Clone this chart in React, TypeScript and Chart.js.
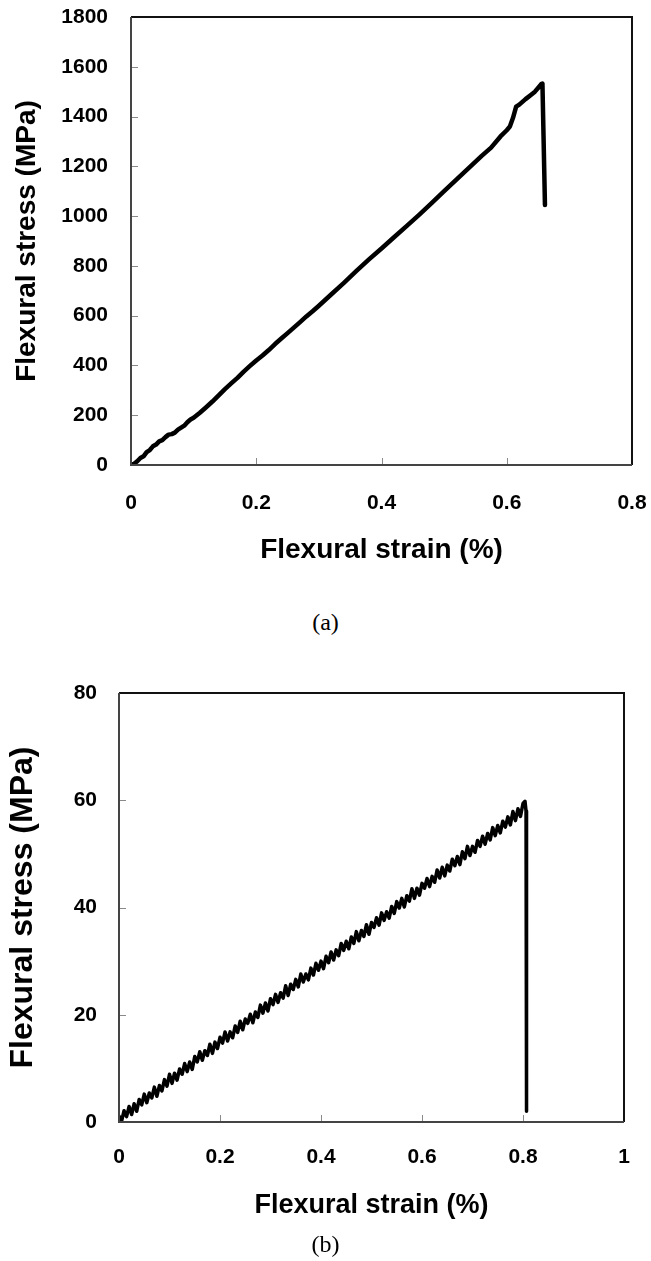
import React, { useEffect, useRef } from 'react';
import { Chart, registerables } from 'chart.js';

Chart.register(...registerables);

// ---------- DATA ----------
const X_TITLE = 'Flexural strain (%)';
const Y_TITLE = 'Flexural stress (MPa)';

const X_TICKS_A = ['0', '0.2', '0.4', '0.6', '0.8'];
const Y_TICKS_A = ['0', '200', '400', '600', '800', '1000', '1200', '1400', '1600', '1800'];
const X_TICKS_B = ['0', '0.2', '0.4', '0.6', '0.8', '1'];
const Y_TICKS_B = ['0', '20', '40', '60', '80'];

const STRAIN_A = [
  0, 0.005, 0.01, 0.015, 0.02, 0.025, 0.03, 0.035, 0.04, 0.045, 0.05, 0.055, 0.06, 0.065, 0.07,
  0.075, 0.08, 0.085, 0.09, 0.095, 0.1, 0.11, 0.12, 0.13, 0.14, 0.15, 0.16, 0.17, 0.18, 0.19,
  0.2, 0.21, 0.22, 0.23, 0.24, 0.25, 0.26, 0.27, 0.28, 0.29, 0.3, 0.32, 0.34, 0.36, 0.38, 0.4,
  0.42, 0.44, 0.46, 0.48, 0.5, 0.52, 0.54, 0.56, 0.575, 0.59, 0.6, 0.605, 0.61, 0.615, 0.62,
  0.63, 0.64, 0.645, 0.65, 0.655, 0.657, 0.661,
];
const STRESS_A = [
  0, 5, 15, 28, 35, 52, 60, 75, 82, 95, 100, 112, 122, 124, 130,
  142, 150, 158, 172, 183, 190, 210, 232, 255, 280, 305, 328, 350, 375, 398,
  420, 440, 462, 486, 508, 530, 552, 574, 597, 618, 640, 686, 732, 780, 826, 870,
  915, 960, 1005, 1052, 1100, 1148, 1195, 1242, 1275, 1320, 1345, 1360, 1395, 1440, 1448,
  1470, 1490, 1500, 1515, 1530, 1532, 1045,
];

const STRAIN_B = [
  0, 0.005, 0.01, 0.015, 0.02, 0.025, 0.03, 0.035, 0.04, 0.045,
  0.05, 0.055, 0.06, 0.065, 0.07, 0.075, 0.08, 0.085, 0.09, 0.095,
  0.1, 0.105, 0.11, 0.115, 0.12, 0.125, 0.13, 0.135, 0.14, 0.145,
  0.15, 0.155, 0.16, 0.165, 0.17, 0.175, 0.18, 0.185, 0.19, 0.195,
  0.2, 0.205, 0.21, 0.215, 0.22, 0.225, 0.23, 0.235, 0.24, 0.245,
  0.25, 0.255, 0.26, 0.265, 0.27, 0.275, 0.28, 0.285, 0.29, 0.295,
  0.3, 0.305, 0.31, 0.315, 0.32, 0.325, 0.33, 0.335, 0.34, 0.345,
  0.35, 0.355, 0.36, 0.365, 0.37, 0.375, 0.38, 0.385, 0.39, 0.395,
  0.4, 0.405, 0.41, 0.415, 0.42, 0.425, 0.43, 0.435, 0.44, 0.445,
  0.45, 0.455, 0.46, 0.465, 0.47, 0.475, 0.48, 0.485, 0.49, 0.495,
  0.5, 0.505, 0.51, 0.515, 0.52, 0.525, 0.53, 0.535, 0.54, 0.545,
  0.55, 0.555, 0.56, 0.565, 0.57, 0.575, 0.58, 0.585, 0.59, 0.595,
  0.6, 0.605, 0.61, 0.615, 0.62, 0.625, 0.63, 0.635, 0.64, 0.645,
  0.65, 0.655, 0.66, 0.665, 0.67, 0.675, 0.68, 0.685, 0.69, 0.695,
  0.7, 0.705, 0.71, 0.715, 0.72, 0.725, 0.73, 0.735, 0.74, 0.745,
  0.75, 0.755, 0.76, 0.765, 0.77, 0.775, 0.78, 0.785, 0.79, 0.795,
  0.8, 0.804, 0.806, 0.807,
];
const STRESS_B = [
  1.1, 0.1, 2.1, 1.0, 2.9, 1.4, 3.4, 2.0, 4.2, 3.2,
  5.2, 3.6, 5.4, 4.5, 6.5, 4.8, 6.8, 5.8, 7.9, 6.7,
  8.9, 7.2, 9.1, 7.8, 9.9, 8.9, 10.9, 9.4, 11.2, 9.8,
  12.2, 11.2, 13.1, 11.5, 13.3, 12.4, 14.5, 12.8, 14.9, 13.7,
  15.8, 14.7, 16.8, 15.1, 16.8, 15.7, 17.9, 16.7, 18.8, 17.2,
  19.2, 18.4, 20.1, 18.5, 20.5, 19.5, 21.8, 20.3, 22.2, 20.7,
  23.0, 21.9, 23.8, 22.3, 24.1, 23.1, 25.4, 23.6, 25.7, 24.7,
  26.6, 25.2, 27.6, 26.1, 27.6, 26.5, 28.7, 27.4, 29.6, 28.3,
  30.0, 28.6, 30.9, 29.7, 31.7, 30.2, 32.1, 31.0, 33.3, 32.0,
  33.7, 32.3, 34.5, 33.3, 35.5, 33.8, 35.7, 34.6, 36.8, 35.0,
  37.2, 36.3, 38.1, 36.7, 39.0, 37.6, 39.2, 38.0, 40.2, 38.9,
  41.1, 39.9, 41.7, 40.1, 42.2, 41.2, 43.5, 41.7, 43.6, 42.3,
  44.5, 43.6, 45.4, 43.9, 45.8, 44.7, 47.0, 45.5, 47.5, 45.9,
  47.9, 46.8, 49.0, 47.8, 49.5, 48.0, 50.4, 49.1, 51.4, 49.7,
  51.4, 50.3, 52.5, 51.4, 53.3, 51.8, 53.8, 52.6, 54.9, 53.4,
  55.3, 53.9, 56.1, 55.0, 56.9, 55.4, 57.9, 56.2, 58.4, 57.0,
  59.4, 59.8, 58.0, 2.0,
];

// ---------- STYLE / LAYOUT ----------
const W = 651;      // page width
const CW = 720;     // canvas width (wider than page, clipped) so that label padding never squeezes the plot
const TICK_FONT = "'Liberation Sans', Arial, sans-serif";
const TITLE_FONT = "'Liberation Sans', Arial, sans-serif";

interface Panel {
  top: number;
  height: number;
  area: { left: number; right: number; top: number; bottom: number };
  xMax: number; xStep: number; yMax: number; yStep: number;
  xTicks: string[]; yTicks: string[];
  strain: number[]; stress: number[];
  lineWidth: number;
  tickSize: number; xTitleSize: number; yTitleSize: number;
  yLabelRight: number; xLabelCenter: number;
  yTitleCenter: number; xTitleCenter: number;
}

const framePlugin = {
  id: 'frame',
  afterDatasetsDraw(chart: any) {
    const { ctx, chartArea, scales } = chart;
    const { left, right, top, bottom } = chartArea;
    ctx.save();
    ctx.strokeStyle = '#8a8a8a';
    ctx.lineWidth = 1;
    scales.x.ticks.forEach((t: any) => {
      const px = Math.round(scales.x.getPixelForValue(t.value)) + 0.5;
      if (px <= left + 2 || px >= right - 2) return;
      ctx.beginPath(); ctx.moveTo(px, bottom); ctx.lineTo(px, bottom - 7); ctx.stroke();
    });
    scales.y.ticks.forEach((t: any) => {
      const py = Math.round(scales.y.getPixelForValue(t.value)) + 0.5;
      if (py <= top + 2 || py >= bottom - 2) return;
      ctx.beginPath(); ctx.moveTo(left, py); ctx.lineTo(left + 7, py); ctx.stroke();
    });
    ctx.lineWidth = 2;
    ctx.strokeStyle = '#111';
    ctx.beginPath();
    ctx.moveTo(left, top); ctx.lineTo(right, top); ctx.lineTo(right, bottom);
    ctx.stroke();
    ctx.strokeStyle = '#444';
    ctx.beginPath();
    ctx.moveTo(right, bottom); ctx.lineTo(left, bottom); ctx.lineTo(left, top);
    ctx.stroke();
    ctx.restore();
  },
};

function makeChart(canvas: HTMLCanvasElement, p: Panel) {
  const tickLH = p.tickSize * 1.2;
  const xTitleLH = p.xTitleSize * 1.2;
  const yTitleLH = p.yTitleSize * 1.2;
  const areaTop = p.area.top - p.top;
  const areaBottom = p.area.bottom - p.top;
  return new Chart(canvas, {
    type: 'line',
    data: {
      datasets: [{
        data: p.strain.map((x, i) => ({ x, y: p.stress[i] })),
        borderColor: '#000',
        borderWidth: p.lineWidth,
        pointRadius: 0,
        tension: 0,
        fill: false,
        borderJoinStyle: 'round',
        borderCapStyle: 'round',
      }],
    },
    options: {
      responsive: false,
      animation: false,
      devicePixelRatio: 1,
      layout: { padding: { left: 0, top: areaTop, right: CW - p.area.right, bottom: 0 } },
      plugins: { legend: { display: false }, tooltip: { enabled: false } },
      scales: {
        x: {
          type: 'linear', min: 0, max: p.xMax,
          grid: { display: false, drawTicks: false },
          border: { display: false },
          ticks: {
            stepSize: p.xStep, autoSkip: false, maxRotation: 0, color: '#000',
            padding: p.xLabelCenter - p.area.bottom - tickLH / 2,
            font: { family: TICK_FONT, size: p.tickSize, weight: 'bold' },
            callback: (v: any) => p.xTicks[Math.round(Number(v) / p.xStep)] ?? '',
          },
          title: {
            display: true, text: X_TITLE, color: '#000',
            font: { family: TITLE_FONT, size: p.xTitleSize, weight: 'bold' },
            padding: { top: 0, bottom: p.height - (p.xTitleCenter - p.top) - xTitleLH / 2 },
          },
          afterFit: (s: any) => { s.height = p.height - areaBottom; },
        },
        y: {
          type: 'linear', min: 0, max: p.yMax,
          grid: { display: false, drawTicks: false },
          border: { display: false },
          ticks: {
            stepSize: p.yStep, autoSkip: false, color: '#000',
            padding: p.area.left - p.yLabelRight,
            font: { family: TICK_FONT, size: p.tickSize, weight: 'bold' },
            callback: (v: any) => p.yTicks[Math.round(Number(v) / p.yStep)] ?? '',
          },
          title: {
            display: true, text: Y_TITLE, color: '#000',
            font: { family: TITLE_FONT, size: p.yTitleSize, weight: 'bold' },
            padding: { top: p.yTitleCenter - yTitleLH / 2, bottom: 0 },
          },
          afterFit: (s: any) => { s.width = p.area.left; },
        },
      },
    } as any,
    plugins: [framePlugin],
  });
}

const PANEL_A: Panel = {
  top: -40, height: 630,
  area: { left: 131, right: 632, top: 17, bottom: 465 },
  xMax: 0.8, xStep: 0.2, yMax: 1800, yStep: 200,
  xTicks: X_TICKS_A, yTicks: Y_TICKS_A,
  strain: STRAIN_A, stress: STRESS_A,
  lineWidth: 4.5, tickSize: 21, xTitleSize: 28, yTitleSize: 28,
  yLabelRight: 108, xLabelCenter: 503, yTitleCenter: 27, xTitleCenter: 550,
};

const PANEL_B: Panel = {
  top: 600, height: 661,
  area: { left: 119, right: 624, top: 693, bottom: 1122 },
  xMax: 1, xStep: 0.2, yMax: 80, yStep: 20,
  xTicks: X_TICKS_B, yTicks: Y_TICKS_B,
  strain: STRAIN_B, stress: STRESS_B,
  lineWidth: 3.5, tickSize: 21, xTitleSize: 27, yTitleSize: 32,
  yLabelRight: 97, xLabelCenter: 1157, yTitleCenter: 23, xTitleCenter: 1206,
};

function PanelCanvas({ p }: { p: Panel }) {
  const ref = useRef<HTMLCanvasElement | null>(null);
  useEffect(() => {
    if (!ref.current) return;
    const c = makeChart(ref.current, p);
    return () => c.destroy();
  }, [p]);
  return (
    <canvas
      ref={ref}
      width={CW}
      height={p.height}
      style={{ position: 'absolute', left: 0, top: p.top, width: CW, height: p.height, display: 'block' }}
    />
  );
}

const capStyle: React.CSSProperties = {
  position: 'absolute', left: 0, width: W, textAlign: 'center',
  fontFamily: "'Liberation Serif', 'Times New Roman', serif", fontSize: 24, lineHeight: '24px', color: '#000',
};

export default function App() {
  return (
    <div style={{ position: 'absolute', left: 0, top: 0, width: W, height: 1261, background: '#fff', overflow: 'hidden' }}>
      <PanelCanvas p={PANEL_A} />
      <div style={{ ...capStyle, top: 610 }}>(a)</div>
      <PanelCanvas p={PANEL_B} />
      <div style={{ ...capStyle, top: 1232 }}>(b)</div>
    </div>
  );
}
